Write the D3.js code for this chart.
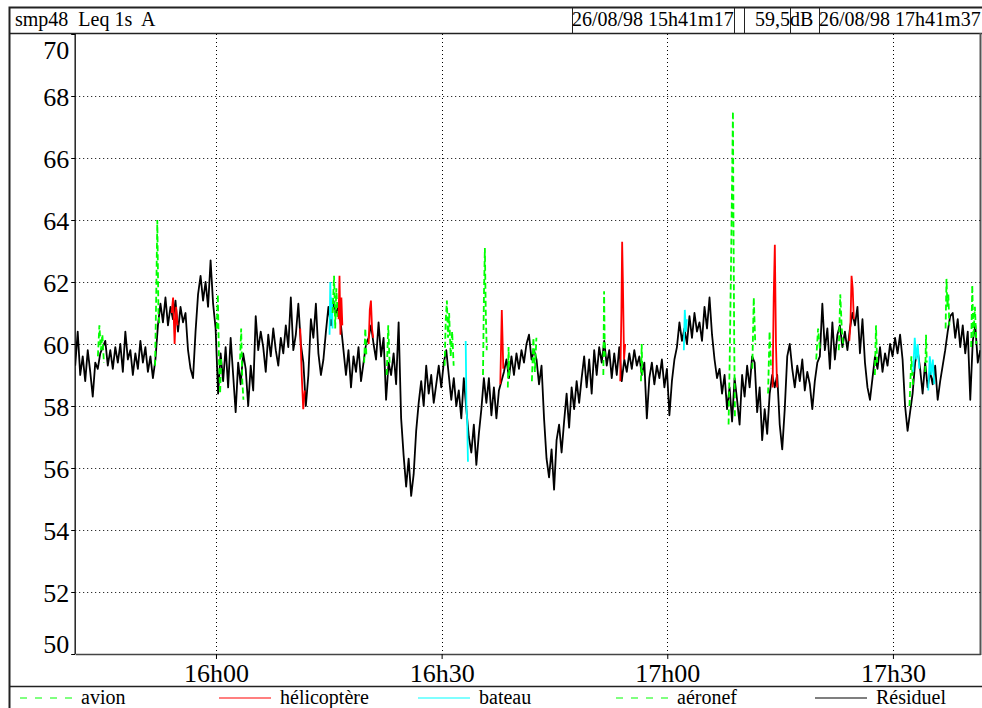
<!DOCTYPE html>
<html>
<head>
<meta charset="utf-8">
<script src="https://cdn.jsdelivr.net/npm/d3@7"></script>
<style>
  body { margin: 0; background: #fff; }
  svg { display: block; }
  svg text { font-family: "Liberation Serif", "Times New Roman", serif; }
</style>
</head>
<body>
<svg id="chart" width="982" height="708"></svg>
<script>
// time is in minutes after 15h00
const tStart = 41 + 17 / 60;   // 15h41m17
const tEnd = 161 + 37 / 60;    // 17h41m37
const step = 20 / 60;          // one value read every 20 s

// Résiduel, one row per minute (values at +17s, +37s, +57s)
const residuel = [
  59.3, 60.4, 59.0,  59.6, 58.8, 59.8,  59.1, 58.3, 59.4,  59.2, 59.7, 59.9,  60.1, 59.3, 59.8,
  59.2, 59.9, 59.4,  60.0, 59.1, 60.4,  59.5, 59.8, 59.0,  59.7, 59.2, 60.1,  59.4, 59.9, 59.1,
  59.6, 58.9, 59.5,  60.6, 61.3, 60.7,  61.5, 60.6, 61.2,  60.8, 61.4, 60.4,  61.2, 60.7, 61.0,
  59.8, 59.2, 58.9,  60.4, 61.6, 62.2,  61.4, 62.0, 61.2,  62.7, 61.3, 60.5,  58.4, 59.7, 58.8,
  59.9, 58.6, 60.2,  59.0, 57.8, 59.4,  58.7, 59.7, 59.2,  58.0, 59.3, 58.5,  60.9, 59.8, 60.4,
  59.9, 59.1, 60.3,  59.6, 60.5, 59.8,  59.3, 60.2, 59.7,  60.6, 59.9, 61.5,  59.8, 60.3, 61.3,
  60.0, 59.4, 58.0,  59.0, 60.8, 60.2,  61.3, 59.7, 59.0,  59.5, 60.4, 61.2,  60.6, 61.4, 61.0,
  61.2, 60.6, 59.8,  59.0, 59.8, 58.6,  59.6, 59.1, 59.9,  58.8, 59.4, 60.0,  60.2, 60.6, 60.0,
  59.5, 60.7, 59.6,  60.2, 58.2, 59.4,  59.0, 59.7, 58.7,  60.7, 57.6, 56.4,  55.4, 56.3, 55.1,
  55.8, 57.2, 58.1,  58.8, 58.0, 59.3,  58.4, 59.0, 58.1,  58.7, 59.3, 58.6,  59.4, 59.8, 59.0,
  58.2, 58.9, 58.0,  58.5, 57.6, 58.9,  57.9, 57.0, 56.5,  57.4, 56.1, 57.1,  57.9, 58.9, 58.1,
  58.9, 57.7, 58.6,  57.6, 58.5, 58.8,  59.1, 59.5, 58.9,  59.6, 59.0, 59.7,  59.2, 59.8, 59.4,
  60.0, 60.3, 59.5,  59.8, 59.5, 58.7,  59.3, 57.6, 56.3,  55.7, 56.6, 55.3,  56.9, 57.4, 56.5,
  57.5, 58.4, 57.3,  58.6, 57.9, 58.8,  58.1, 58.9, 59.6,  58.6, 59.5, 58.4,  59.8, 59.0, 59.9,
  59.4, 60.1, 59.3,  59.8, 58.9, 59.7,  59.0, 59.9, 58.8,  59.5, 59.1, 59.7,  59.2, 59.8, 59.3,
  59.6, 59.0, 59.4,  57.6, 58.9, 59.4,  58.7, 59.3, 58.9,  59.5, 58.6, 59.2,  57.7, 58.8, 59.5,
  59.9, 60.7, 60.1,  60.5, 60.0, 60.9,  60.2, 61.0, 60.4,  60.7, 60.1, 61.2,  60.5, 61.5, 60.3,
  59.5, 58.9, 59.2,  58.4, 59.0, 57.9,  58.6, 57.5, 58.9,  58.2, 57.4, 59.0,  58.3, 59.3, 58.6,
  59.6, 59.4, 57.8,  58.6, 56.9, 57.9,  57.1, 58.4, 59.0,  58.6, 59.0, 57.4,  56.6, 57.9, 59.6,
  60.0, 59.2, 58.6,  59.3, 58.8, 59.5,  58.5, 59.1, 58.7,  57.9, 58.8, 59.4,  59.6, 61.3, 59.8,
  60.5, 59.2, 60.7,  59.5, 60.3, 60.6,  59.9, 60.4, 59.8,  60.5, 61.0, 60.6,  61.2, 59.7, 60.8,
  59.4, 58.6, 58.2,  58.9, 59.6, 59.2,  59.9, 59.1, 59.7,  59.3, 60.0, 59.6,  60.2, 59.7, 60.3,
  59.5, 58.0, 57.2,  57.8, 58.4, 59.4,  59.8, 59.2, 58.4,  59.4, 58.6, 59.1,  58.7, 59.3, 58.2,
  58.8, 59.3, 59.8,  60.4, 60.9, 61.0,  60.2, 60.8, 59.9,  60.6, 59.7, 60.4,  58.2, 60.1, 60.6,
  59.4, 59.8
];

// identified sources laid over the residual trace
const events = [
  { type: "avion", t: [44.3, 44.5, 44.7, 44.9, 45.1], v: [59.6, 60.6, 59.8, 60.3, 59.4] },
  { type: "avion", t: [51.9, 52.05, 52.2, 52.35, 52.5], v: [59.3, 61.5, 64.0, 61.0, 60.6] },
  { type: "hélicoptère", t: [54.1, 54.3, 54.5, 54.7, 54.9], v: [61.0, 61.5, 60.0, 61.2, 60.6] },
  { type: "avion", t: [60.1, 60.25, 60.4, 60.55, 60.7], v: [60.5, 61.6, 59.5, 58.4, 59.6] },
  { type: "avion", t: [63.2, 63.35, 63.5, 63.65], v: [59.5, 60.5, 58.8, 58.2] },
  { type: "hélicoptère", t: [71.2, 71.4, 71.6, 71.8], v: [60.5, 59.0, 57.9, 58.5] },
  { type: "bateau", t: [75.1, 75.2, 75.3, 75.4, 75.5], v: [60.3, 62.0, 60.8, 61.5, 60.5] },
  { type: "avion", t: [75.5, 75.7, 75.85, 76.0, 76.2], v: [61.0, 62.2, 60.5, 61.8, 60.8] },
  { type: "hélicoptère", t: [76.3, 76.42, 76.55, 76.67, 76.8], v: [60.8, 62.2, 60.3, 61.5, 60.6] },
  { type: "avion", t: [79.7, 79.85, 80.0], v: [59.4, 60.5, 59.6] },
  { type: "hélicoptère", t: [80.3, 80.45, 80.6, 80.75, 80.9], v: [60.0, 61.1, 61.4, 60.5, 60.2] },
  { type: "avion", t: [82.7, 82.9, 83.1], v: [59.0, 60.6, 59.3] },
  { type: "aéronef", t: [90.4, 90.55, 90.7, 90.85, 91.0, 91.2, 91.4, 91.6], v: [59.3, 60.8, 61.4, 60.2, 61.0, 59.6, 60.4, 59.3] },
  { type: "bateau", t: [93.2, 93.3, 93.4, 93.5], v: [60.1, 58.0, 57.5, 56.2] },
  { type: "avion", t: [95.5, 95.62, 95.75, 95.87, 96.0], v: [59.0, 61.5, 63.1, 61.0, 59.8] },
  { type: "hélicoptère", t: [97.8, 98.0, 98.2], v: [58.7, 61.1, 59.2] },
  { type: "avion", t: [98.8, 98.9, 99.0], v: [58.6, 59.9, 58.9] },
  { type: "avion", t: [102.0, 102.2, 102.4, 102.6], v: [58.8, 60.2, 59.1, 60.2] },
  { type: "avion", t: [111.5, 111.6, 111.7], v: [59.0, 61.7, 59.6] },
  { type: "hélicoptère", t: [113.75, 113.9, 114.0, 114.1, 114.25, 114.4], v: [58.8, 61.0, 63.3, 62.0, 59.5, 60.0] },
  { type: "avion", t: [116.5, 116.6, 116.7], v: [58.8, 60.0, 59.0] },
  { type: "bateau", t: [122.2, 122.33, 122.47, 122.6], v: [59.8, 61.1, 60.4, 60.8] },
  { type: "aéronef", t: [128.15, 128.3, 128.5, 128.73, 128.8, 128.9, 129.0], v: [57.4, 59.5, 63.0, 67.5, 64.0, 60.0, 57.6] },
  { type: "avion", t: [131.3, 131.5, 131.7], v: [59.2, 61.5, 60.0] },
  { type: "avion", t: [133.4, 133.6, 133.8], v: [58.4, 60.4, 59.2] },
  { type: "hélicoptère", t: [134.0, 134.15, 134.3, 134.45, 134.6], v: [58.6, 61.5, 63.2, 60.0, 58.6] },
  { type: "avion", t: [139.8, 140.05, 140.3], v: [59.5, 60.5, 59.8] },
  { type: "avion", t: [142.8, 143.0, 143.2, 143.4], v: [59.8, 61.6, 60.5, 59.9] },
  { type: "hélicoptère", t: [144.2, 144.35, 144.5, 144.65, 144.8], v: [60.1, 60.6, 62.2, 61.8, 60.8] },
  { type: "avion", t: [147.6, 147.75, 147.9], v: [59.0, 60.6, 59.4] },
  { type: "avion", t: [152.2, 152.45, 152.7], v: [58.0, 59.6, 58.6] },
  { type: "bateau", t: [152.7, 152.9, 153.1, 153.3, 153.5], v: [59.1, 60.2, 59.5, 60.0, 59.2] },
  { type: "avion", t: [154.3, 154.4, 154.5], v: [59.1, 60.3, 59.4] },
  { type: "bateau", t: [154.7, 154.9, 155.1, 155.3, 155.5], v: [58.5, 59.6, 59.0, 59.5, 58.7] },
  { type: "avion", t: [157.0, 157.12, 157.25, 157.37, 157.5], v: [60.5, 62.1, 61.2, 61.6, 60.6] },
  { type: "aéronef", t: [160.4, 160.55, 160.7, 160.9, 161.1], v: [59.9, 61.9, 60.2, 61.2, 60.0] }
];

const yTicks = [50, 52, 54, 56, 58, 60, 62, 64, 66, 68, 70];
const xTicks = [60, 90, 120, 150];
const xTickLabels = ["16h00", "16h30", "17h00", "17h30"];

const legendNames = ["avion", "hélicoptère", "bateau", "aéronef", "Résiduel"];
const legendColors = ["#00ff00", "#ff0000", "#00ffff", "#00ff00", "#000000"];
const legendDashed = [true, false, false, true, false];

const headerTitle = "smp48  Leq 1s  A";
const headerStart = "26/08/98 15h41m17";
const headerLevel = "59,5";
const headerUnit = "dB";
const headerEnd = "26/08/98 17h41m37";

const serif = '"Liberation Serif", "Times New Roman", serif';

const colorOf = d3.scaleOrdinal().domain(legendNames).range(legendColors);
const dashedOf = d3.scaleOrdinal().domain(legendNames).range(legendDashed);

const svg = d3.select("#chart");

const plot = { left: 75.2, right: 980.3, top: 34, bottom: 654 };

const x = d3.scaleLinear().domain([tStart, tEnd]).range([plot.left, plot.right]);
const y = d3.scaleLinear().domain([50, 70]).range([plot.bottom, plot.top]);

// frame
const frame = svg.append("g").attr("stroke", "#222").attr("fill", "none");
frame.append("rect").attr("x", 9.5).attr("y", 7.5).attr("width", 990).attr("height", 720).attr("stroke-width", 2);
frame.append("line").attr("x1", 9).attr("x2", 982).attr("y1", 33.5).attr("y2", 33.5).attr("stroke-width", 1.5);
frame.append("line").attr("x1", 9).attr("x2", 982).attr("y1", 686.5).attr("y2", 686.5).attr("stroke-width", 1.5);
frame.append("line").attr("x1", 980.5).attr("x2", 980.5).attr("y1", 33).attr("y2", 655).attr("stroke", "#555").attr("stroke-width", 2);

// header boxes
[572, 734, 744, 790, 819].forEach(px => {
  frame.append("line").attr("x1", px + 0.5).attr("x2", px + 0.5).attr("y1", 7).attr("y2", 33).attr("stroke-width", 1);
});
const header = svg.append("g").attr("font-size", 20).attr("fill", "#000");
header.append("text").attr("x", 15).attr("y", 26).style("white-space", "pre").text(headerTitle);
header.append("text").attr("x", 572).attr("y", 26).text(headerStart);
header.append("text").attr("x", 790).attr("y", 26).attr("text-anchor", "end").text(headerLevel);
header.append("text").attr("x", 790).attr("y", 26).text(headerUnit);
header.append("text").attr("x", 819).attr("y", 26).text(headerEnd);

// grid
const grid = svg.append("g").attr("stroke", "#000").attr("stroke-dasharray", "1,3").attr("stroke-width", 1);
grid.selectAll("line.h").data(yTicks.filter(d => d > 50 && d < 70)).enter().append("line")
  .attr("x1", plot.left).attr("x2", plot.right)
  .attr("y1", d => Math.round(y(d)) + 0.5).attr("y2", d => Math.round(y(d)) + 0.5);
grid.selectAll("line.v").data(xTicks).enter().append("line")
  .attr("x1", d => Math.round(x(d)) + 0.5).attr("x2", d => Math.round(x(d)) + 0.5)
  .attr("y1", plot.top).attr("y2", plot.bottom);

// axes
const yAxis = svg.append("g")
  .attr("transform", `translate(${plot.left},0)`)
  .call(d3.axisLeft(y).tickValues(yTicks).tickSize(4).tickPadding(2).tickSizeOuter(0));
yAxis.select(".domain").attr("stroke", "#222").attr("stroke-width", 1.5).attr("d", `M0,${plot.top - 1}V${plot.bottom}`);
yAxis.selectAll("text")
  .style("font-family", serif).style("font-size", "26px").attr("fill", "#000")
  .attr("dy", d => d === 70 ? "0.95em" : d === 50 ? "-0.05em" : "0.35em");

const xAxis = svg.append("g")
  .attr("transform", `translate(0,${plot.bottom})`)
  .call(d3.axisBottom(x).tickValues(xTicks).tickFormat((d, i) => xTickLabels[i]).tickSize(5).tickPadding(5).tickSizeOuter(0));
xAxis.select(".domain").attr("stroke", "#444").attr("stroke-width", 1.5);
xAxis.selectAll("text").style("font-family", serif).style("font-size", "26px").attr("fill", "#000");

// residual trace
const resData = residuel.map((v, i) => ({ t: tStart + i * step, v: v }));
const line = d3.line().x(d => x(d.t)).y(d => y(d.v));

svg.append("clipPath").attr("id", "plotclip").append("rect")
  .attr("x", plot.left).attr("y", plot.top).attr("width", plot.right - plot.left).attr("height", plot.bottom - plot.top);

const traces = svg.append("g").attr("clip-path", "url(#plotclip)");
traces.append("path").datum(resData)
  .attr("d", line).attr("fill", "none").attr("stroke", "#000").attr("stroke-width", 1.8).attr("stroke-linejoin", "round");

traces.selectAll("path.ev").data(events).enter().append("path")
  .attr("class", "ev")
  .attr("d", d => line(d.t.map((t, i) => ({ t: t, v: d.v[i] }))))
  .attr("fill", "none")
  .attr("stroke", d => colorOf(d.type))
  .attr("stroke-width", 1.8)
  .attr("stroke-dasharray", d => dashedOf(d.type) ? "6,3" : null);

// legend
const legendX = [20, 219, 418, 616, 815];
const legend = svg.append("g").attr("font-size", 20);
legendNames.forEach((name, i) => {
  legend.append("line")
    .attr("x1", legendX[i]).attr("x2", legendX[i] + 52)
    .attr("y1", 698).attr("y2", 698)
    .attr("stroke", colorOf(name)).attr("stroke-width", 1.2)
    .attr("stroke-dasharray", legendDashed[i] ? "7,8" : null);
  legend.append("text").attr("x", legendX[i] + 61).attr("y", 704).text(name);
});
</script>
</body>
</html>
